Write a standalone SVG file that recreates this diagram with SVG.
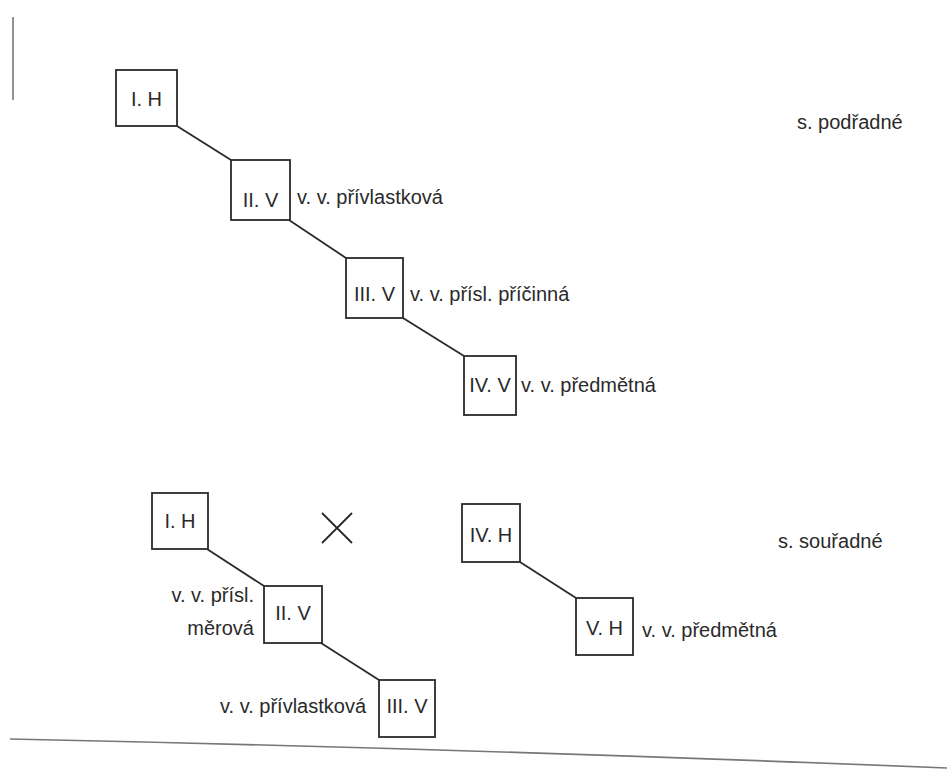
<svg xmlns="http://www.w3.org/2000/svg" width="947" height="770" viewBox="0 0 947 770">
<style>
.box{fill:#fff;stroke:#2a2a2a;stroke-width:1.8}
.t{font-family:"Liberation Sans",Arial,sans-serif;font-size:20px;fill:#2a2a2a}
.c{text-anchor:middle}
.e{text-anchor:end}
.ln{stroke:#2a2a2a;stroke-width:1.8;fill:none}
.page{stroke:#777;stroke-width:1.6;fill:none}
</style>
<rect width="947" height="770" fill="#fff"/>
<g id="page-marks">
<line class="page" x1="13" y1="17" x2="13" y2="100"/>
<path class="page" d="M10 739 Q480 749 947 768"/>
</g>
<g id="connectors">
<line class="ln" x1="177" y1="126" x2="231" y2="160"/>
<line class="ln" x1="289" y1="220" x2="346" y2="258"/>
<line class="ln" x1="403" y1="318" x2="464" y2="356"/>
<line class="ln" x1="207" y1="549" x2="264" y2="586"/>
<line class="ln" x1="321" y1="643" x2="379" y2="680"/>
<line class="ln" x1="520" y1="562" x2="576" y2="598"/>
</g>
<g id="n-top-1H"><rect class="box" x="116" y="70" width="61" height="56"/><text class="t c" x="146.5" y="106">I. H</text></g>
<g id="n-top-2V"><rect class="box" x="231" y="160" width="59" height="60"/><text class="t c" x="260.5" y="207">II. V</text><text class="t" x="297" y="204">v. v. přívlastková</text></g>
<g id="n-top-3V"><rect class="box" x="346" y="258" width="57" height="60"/><text class="t c" x="374.5" y="301">III. V</text><text class="t" x="410" y="301">v. v. přísl. příčinná</text></g>
<g id="n-top-4V"><rect class="box" x="464" y="356" width="52" height="59"/><text class="t c" x="490" y="392">IV. V</text><text class="t" x="521" y="392">v. v. předmětná</text></g>
<text class="t" x="797" y="129">s. podřadné</text>
<g id="n-bot-1H"><rect class="box" x="152" y="493" width="56" height="56"/><text class="t c" x="180" y="528">I. H</text></g>
<g id="cross"><path class="ln" d="M322 513 L352 543 M352 513 L322 543"/></g>
<g id="n-bot-2V"><rect class="box" x="264" y="586" width="58" height="57"/><text class="t c" x="293" y="620">II. V</text><text class="t e" x="254" y="602">v. v. přísl.</text><text class="t e" x="254" y="635">měrová</text></g>
<g id="n-bot-3V"><rect class="box" x="379" y="680" width="56" height="57"/><text class="t c" x="407" y="713">III. V</text><text class="t e" x="366" y="713">v. v. přívlastková</text></g>
<g id="n-bot-4H"><rect class="box" x="462" y="504" width="58" height="58"/><text class="t c" x="491" y="542">IV. H</text></g>
<g id="n-bot-5H"><rect class="box" x="576" y="598" width="57" height="57"/><text class="t c" x="604.5" y="635">V. H</text><text class="t" x="642" y="637">v. v. předmětná</text></g>
<text class="t" x="778" y="548">s. souřadné</text>
</svg>
